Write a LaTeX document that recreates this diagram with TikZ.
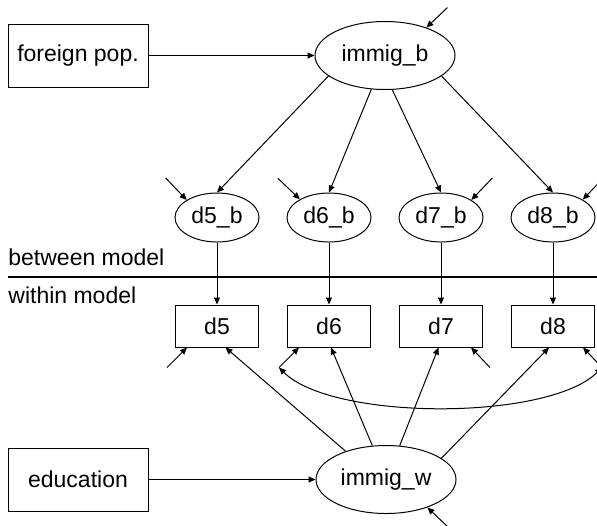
\documentclass[tikz,border=0pt]{standalone}
\usepackage{fontspec}
\setmainfont{Liberation Sans}
\usetikzlibrary{shapes.geometric, arrows.meta, positioning, calc}
\tikzset{
    obsblock/.style={
        rectangle, draw=black, line width=0.5pt, inner sep=0pt,
        text centered, minimum width=70pt, minimum height=31.5pt,
        font=\fontsize{11.5}{13.8}\selectfont
    },
    indblock/.style={
        obsblock, minimum width=41.5pt, minimum height=21pt
    },
    latentnode/.style={
        ellipse, draw=black, line width=0.5pt, inner sep=0pt,
        text centered, minimum width=70pt, minimum height=34pt,
        font=\fontsize{11.5}{13.8}\selectfont
    },
    smalllatent/.style={
        latentnode, minimum width=42pt, minimum height=24.5pt
    },
    connection/.style={draw=black, line width=0.5pt, -{Triangle[length=3.5pt, width=3pt]}},
    errorpath/.style={connection},
    covpath/.style={draw=black, line width=0.5pt, {Triangle[length=3.5pt, width=3pt]}-{Triangle[length=3.5pt, width=3pt]}},
    divider/.style={draw=black, line width=1.2pt},
    label/.style={font=\fontsize{11.5}{13.8}\selectfont, inner sep=0pt}
}

\begin{document}
\begin{tikzpicture}
\useasboundingbox (0,0) rectangle (298.5pt,-262.5pt);

% Between level
\node[obsblock] (foreign) at (39pt,-27.75pt) {foreign pop.};
\node[latentnode, right=83pt of foreign] (immigb) {immig\_b};

\node[smalllatent] (d5b) at (108.5pt,-108.75pt) {d5\_b};
\node[smalllatent, right=13.5pt of d5b] (d6b) {d6\_b};
\node[smalllatent, right=13.5pt of d6b] (d7b) {d7\_b};
\node[smalllatent, right=13.5pt of d7b] (d8b) {d8\_b};

% Level divider
\node[label, anchor=base west] (between) at (4pt,-132.5pt) {between model};
\node[label, anchor=base west] (within) at (4pt,-151.5pt) {within model};
\coordinate (divl) at (4pt,-138.5pt);
\coordinate (divr) at (298.5pt,-138.5pt);
\draw[divider] (divl) -- (divr);

% Within level
\node[indblock, below=31pt of d5b] (d5) {d5};
\node[indblock, below=31pt of d6b] (d6) {d6};
\node[indblock, below=31pt of d7b] (d7) {d7};
\node[indblock, below=31pt of d8b] (d8) {d8};

\node[obsblock, below=180pt of foreign] (education) {education};
\node[latentnode, right=83.5pt of education] (immigw) {immig\_w};

% Error terms
\coordinate (eimmb) at ($(immigb.34)+(10.5pt,10pt)$);
\coordinate (e5b) at ($(d5b.150)+(-10.5pt,11pt)$);
\coordinate (e6b) at ($(d6b.148)+(-11pt,10.5pt)$);
\coordinate (e7b) at ($(d7b.30)+(10.5pt,11pt)$);
\coordinate (e8b) at ($(d8b.31)+(10.5pt,11pt)$);
\coordinate (h5) at ($(d5.south west)+(6pt,0)$);
\coordinate (h6) at ($(d6.south west)+(6pt,0)$);
\coordinate (h7) at ($(d7.south east)+(-6pt,0)$);
\coordinate (h8) at ($(d8.south east)+(-6pt,0)$);
\coordinate (e5) at ($(h5)+(-10pt,-10pt)$);
\coordinate (e6) at ($(h6)+(-10pt,-10pt)$);
\coordinate (e7) at ($(h7)+(9.5pt,-10pt)$);
\coordinate (e8) at ($(h8)+(9.5pt,-10pt)$);
\coordinate (eimmw) at ($(immigw.326)+(10.5pt,-10pt)$);

% Connections
\draw[connection] (foreign) -- (immigb);
\draw[connection] (immigb.200) -- (d5b.north);
\draw[connection] (immigb.248) -- (d6b.north);
\draw[connection] (immigb.282) -- (d7b.north);
\draw[connection] (immigb.340) -- (d8b.north);

\draw[connection] (d5b) -- (d5);
\draw[connection] (d6b) -- (d6);
\draw[connection] (d7b) -- (d7);
\draw[connection] (d8b) -- (d8);

\draw[connection] (education) -- (immigw);
\draw[connection] (immigw.145) -- ($(d5.south)+(4.25pt,0)$);
\draw[connection] (immigw.112) -- ($(d6.south)+(1pt,0)$);
\draw[connection] (immigw.68) -- ($(d7.south)+(-1.25pt,0)$);
\draw[connection] (immigw.21) -- ($(d8.south)+(-2pt,0)$);

\draw[errorpath] (eimmb) -- (immigb.34);
\draw[errorpath] (e5b) -- (d5b.150);
\draw[errorpath] (e6b) -- (d6b.148);
\draw[errorpath] (e7b) -- (d7b.30);
\draw[errorpath] (e8b) -- (d8b.31);
\draw[errorpath] (e5) -- (h5);
\draw[errorpath] (e6) -- (h6);
\draw[errorpath] (e7) -- (h7);
\draw[errorpath] (e8) -- (h8);
\draw[errorpath] (eimmw) -- (immigw.326);

% Residual covariance
\draw[covpath] (e6) to[out=-45, in=-135, looseness=0.6] (e8);

\end{tikzpicture}
\end{document}
